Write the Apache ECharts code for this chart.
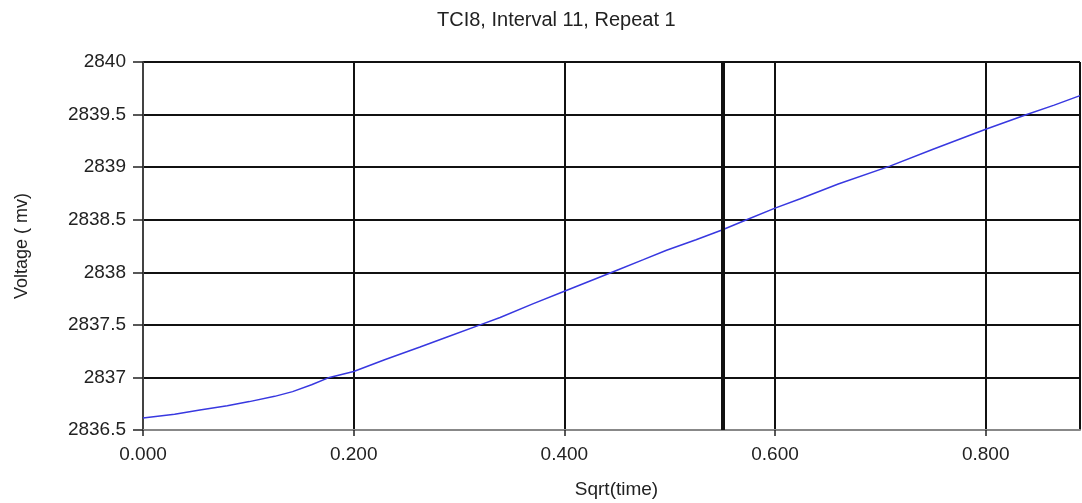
<!DOCTYPE html>
<html>
<head>
    <meta charset="UTF-8">
    <title>TCI8, Interval 11, Repeat 1</title>
    <script src="https://cdn.jsdelivr.net/npm/echarts@6/dist/echarts.min.js"></script>
</head>
<body style="margin:0;background:#fff">
    <div id="main" style="width: 1082px;height:503px;"></div>
</body>

<script>
  // sqrt(time) values
  const sqrtTime = [0.000, 0.030, 0.054, 0.080, 0.101, 0.125, 0.142, 0.160, 0.177, 0.200,
    0.230, 0.263, 0.290, 0.320, 0.339, 0.370, 0.400, 0.425, 0.450, 0.475, 0.497, 0.525,
    0.549, 0.573, 0.600, 0.624, 0.660, 0.709, 0.750, 0.800, 0.839, 0.865, 0.8895]
  // voltage (mv)
  const voltage = [2836.614, 2836.65, 2836.69, 2836.73, 2836.77, 2836.82, 2836.865, 2836.93, 2837.00, 2837.056,
    2837.17, 2837.29, 2837.39, 2837.50, 2837.57, 2837.70, 2837.82, 2837.92, 2838.02, 2838.12, 2838.21, 2838.31,
    2838.40, 2838.50, 2838.61, 2838.70, 2838.84, 2839.01, 2839.17, 2839.36, 2839.50, 2839.59, 2839.68]
  // position of the heavy vertical marker
  const markerX = 0.5486

  const xMin = 0, xMax = 0.8895, xStep = 0.2
  const yMin = 2836.5, yMax = 2840, yStep = 0.5

  const font = 'Liberation Sans, Arial, sans-serif'

  const myChart = echarts.init(document.getElementById('main'))

  const option = {
    animation: false,
    title: {
      text: 'TCI8, Interval 11, Repeat 1',
      left: 432,
      top: 5,
      textStyle: { fontFamily: font, fontSize: 20, fontWeight: 'normal', color: '#222' }
    },
    grid: { left: 143, right: 2, top: 62, bottom: 73, outerBoundsMode: 'none', containLabel: false },
    xAxis: {
      type: 'value',
      min: xMin,
      max: xMax,
      interval: xStep,
      name: 'Sqrt(time)',
      nameLocation: 'middle',
      nameGap: 50,
      nameTextStyle: { fontFamily: font, fontSize: 19, color: '#222', padding: [0, 0, 0, 10] },
      axisLine: { onZero: false, lineStyle: { color: '#888', width: 2 } },
      axisTick: { length: 6, lineStyle: { color: '#222', width: 1.5 } },
      axisLabel: {
        showMaxLabel: false,
        margin: 15,
        fontFamily: font, fontSize: 19, color: '#222',
        formatter: v => v.toFixed(3)
      },
      splitLine: { lineStyle: { color: '#111', width: 2 } }
    },
    yAxis: {
      type: 'value',
      min: yMin,
      max: yMax,
      interval: yStep,
      name: 'Voltage ( mv)',
      nameLocation: 'middle',
      nameGap: 112,
      nameTextStyle: { fontFamily: font, fontSize: 18, color: '#222' },
      axisLine: { show: true, lineStyle: { color: '#555', width: 1.5 } },
      axisTick: { show: true, length: 10, lineStyle: { color: '#222', width: 1.5 } },
      axisLabel: {
        margin: 17, fontFamily: font, fontSize: 19, color: '#222',
        formatter: v => String(Math.round(v * 10) / 10)
      },
      splitLine: { lineStyle: { color: '#111', width: 2 } }
    },
    series: [
      {
        type: 'line',
        data: sqrtTime.map((x, i) => [x, voltage[i]]),
        showSymbol: false,
        lineStyle: { color: '#3838e0', width: 1.5 },
        markLine: {
          silent: true,
          symbol: 'none',
          label: { show: false },
          lineStyle: { color: '#111', width: 4, type: 'solid' },
          data: [{ xAxis: markerX }]
        }
      }
    ]
  }

  myChart.setOption(option)
</script>

</html>
